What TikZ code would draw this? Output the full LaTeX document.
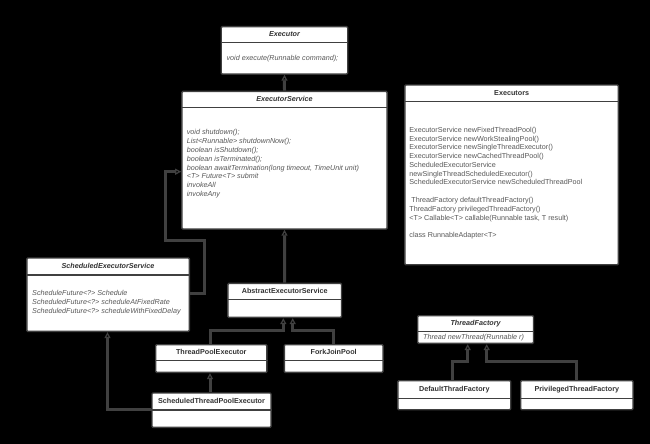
\documentclass[tikz,border=0pt]{standalone}
\usepackage{fontspec}
\setmainfont{Liberation Sans}
\usetikzlibrary{arrows.meta,calc}
\definecolor{linec}{HTML}{404040}
\definecolor{titlec}{HTML}{333333}
\definecolor{methc}{HTML}{585858}
\tikzset{
 box/.style={draw=linec, line width=1.4pt, fill=white, rounded corners=1pt, inner sep=0pt, anchor=north west},
 hdr/.style={draw=linec, line width=1.2pt},
 ttl/.style={font=\fontsize{7.2}{8.75}\selectfont\bfseries, text=titlec, inner sep=0pt},
 ittl/.style={font=\fontsize{7.2}{8.75}\selectfont\bfseries\itshape, text=titlec, inner sep=0pt},
 meth/.style={font=\fontsize{7.2}{8.75}\selectfont, text=methc, inner sep=0pt, anchor=mid west},
 imeth/.style={font=\fontsize{7.2}{8.75}\selectfont\itshape, text=methc, inner sep=0pt, anchor=mid west},
 conn/.style={draw=linec, line width=3pt, -{Triangle[length=6pt, width=6pt, line width=1.2pt, fill=black]}},
}
% name, x1, y1, x2, y2, header y
\newcommand\umlbox[6]{%
  \node[box, minimum width={#4-#2}, minimum height={#5-#3}] (#1) at (#2,#3) {};
  \draw[hdr] (#1.west |- 0,#6) -- (#1.east |- 0,#6);
}
\begin{document}
\begin{tikzpicture}[x=1pt,y=-1pt]
\useasboundingbox (0,0) rectangle (650,444);
\fill[black] (0,0) rectangle (650,444);

% boxes
\umlbox{ex}{220.5}{26}{347}{73.3}{42.7}
\umlbox{es}{181.2}{90.7}{386.4}{228.3}{107.3}
\umlbox{exs}{404.2}{84.3}{617.7}{264}{101.7}
\umlbox{ses}{26.1}{257.3}{188.6}{330.7}{275}
\umlbox{aes}{227.2}{282.7}{340.8}{316.7}{299.7}
\umlbox{tpe}{155}{344}{266.2}{371.7}{360.7}
\umlbox{fjp}{283.6}{344}{382.3}{371.7}{360.7}
\umlbox{stpe}{151.3}{392.3}{270.3}{426.7}{410}
\umlbox{tf}{417}{315}{532.8}{342.7}{331.7}
\umlbox{dtf}{397.2}{380}{510}{409}{398.3}
\umlbox{ptf}{520}{380}{632.3}{409}{398.3}

% titles
\node[ittl] (ex-t) at (ex.north |- 0,34.3) {Executor};
\node[ittl] (es-t) at (es.north |- 0,99) {ExecutorService};
\node[ttl] (exs-t) at (exs.north |- 0,93.3) {Executors};
\node[ittl] (ses-t) at (ses.north |- 0,266) {ScheduledExecutorService};
\node[ttl] (aes-t) at (aes.north |- 0,291.3) {AbstractExecutorService};
\node[ttl] (tpe-t) at (tpe.north |- 0,352.3) {ThreadPoolExecutor};
\node[ttl] (fjp-t) at (fjp.north |- 0,352.3) {ForkJoinPool};
\node[ttl] (stpe-t) at (stpe.north |- 0,401) {ScheduledThreadPoolExecutor};
\node[ittl] (tf-t) at (tf.north |- 0,323.3) {ThreadFactory};
\node[ttl] (dtf-t) at (dtf.north |- 0,389.3) {DefaultThradFactory};
\node[ttl] (ptf-t) at (ptf.north |- 0,389.3) {PrivilegedThreadFactory};

% methods
\node[imeth] (ex-m) at (226.4,58) {void execute(Runnable command);};
\foreach \t [count=\i] in {{void shutdown();},{List<Runnable> shutdownNow();},{boolean isShutdown();},{boolean isTerminated();},{boolean awaitTermination(long timeout, TimeUnit unit)},{<T> Future<T> submit},{invokeAll},{invokeAny}}
  \node[imeth] (es-m\i) at (186.6,{132.3+(\i-1)*8.77}) {\t};
\foreach \t [count=\i] in {{ExecutorService newFixedThreadPool()},{ExecutorService newWorkStealingPool()},{ExecutorService newSingleThreadExecutor()},{ExecutorService newCachedThreadPool()},{ScheduledExecutorService},{newSingleThreadScheduledExecutor()},{ScheduledExecutorService newScheduledThreadPool}}
  \node[meth] (exs-a\i) at (409.2,{129.7+(\i-1)*8.77}) {\t};
\foreach \t [count=\i] in {{\ ThreadFactory defaultThreadFactory()},{ThreadFactory privilegedThreadFactory()},{<T> Callable<T> callable(Runnable task, T result)}}
  \node[meth] (exs-b\i) at (409.2,{200+(\i-1)*8.85}) {\t};
\node[meth] (exs-c) at (409.2,235) {class RunnableAdapter<T>};
\foreach \t [count=\i] in {{ScheduleFuture<?> Schedule},{ScheduledFuture<?> scheduleAtFixedRate},{ScheduledFuture<?> scheduleWithFixedDelay}}
  \node[imeth] (ses-m\i) at (32,{293+(\i-1)*8.85}) {\t};
\node[imeth] (tf-m) at (422.9,337) {Thread newThread(Runnable r)};

% connectors
\draw[conn] (es.north) -- (ex.south);
\draw[conn] (aes.north) -- (es.south);
\draw[conn] (ses.east |- 0,293.3) -- (204.4,293.3) -- (204.4,240) -- (165.8,240) -- (165.8,171.7) -- (es.west |- 0,171.7);
\draw[conn] (tpe.north -| 210,0) -- (210,330) -- (283.3,330) -- (aes.south -| 283.3,0);
\draw[conn] (fjp.north -| 333.3,0) -- (333.3,330) -- (292.7,330) -- (aes.south -| 292.7,0);
\draw[conn] (stpe.north -| 210,0) -- (tpe.south -| 210,0);
\draw[conn] (stpe.west |- 0,409.3) -- (107.5,409.3) -- (ses.south -| 107.5,0);
\draw[conn] (dtf.north -| 452.7,0) -- (452.7,361) -- (467.7,361) -- (tf.south -| 467.7,0);
\draw[conn] (ptf.north -| 576,0) -- (576,361) -- (486.7,361) -- (tf.south -| 486.7,0);
\end{tikzpicture}
\end{document}
